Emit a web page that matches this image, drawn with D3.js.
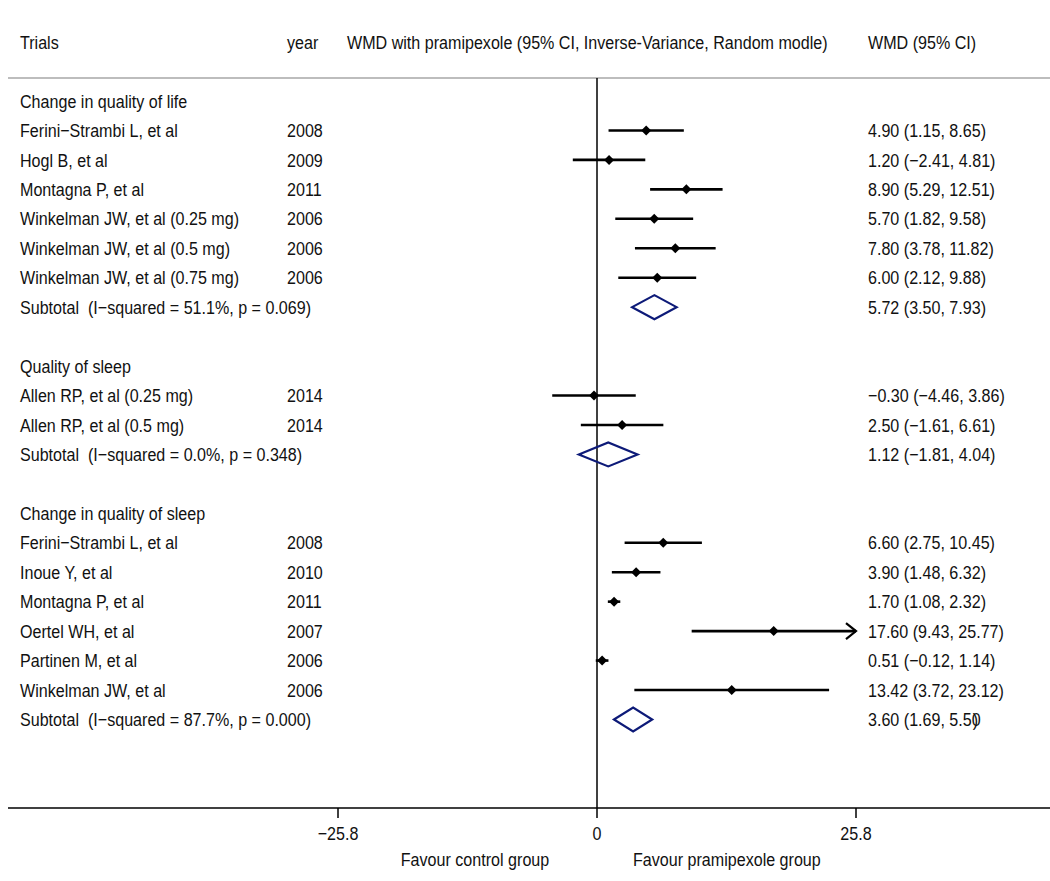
<!DOCTYPE html>
<html><head><meta charset="utf-8">
<script src="https://cdn.jsdelivr.net/npm/d3@7"></script>
<style>
body{margin:0;background:#fff;}
text{font-family:"Liberation Sans",Arial,sans-serif;font-size:18.5px;fill:#111;white-space:pre;}
</style></head>
<body><svg id="c" width="1050" height="881"></svg>
<script>
// row types: h = group header, s = study, t = subtotal, b = blank
const rowTypes = ["h","s","s","s","s","s","s","t","b","h","s","s","t","b","h","s","s","s","s","s","s","t"];
const labels = ["Change in quality of life","Ferini−Strambi L, et al","Hogl B, et al","Montagna P, et al","Winkelman JW, et al (0.25 mg)","Winkelman JW, et al (0.5 mg)","Winkelman JW, et al (0.75 mg)","Subtotal  (I−squared = 51.1%, p = 0.069)","",
"Quality of sleep","Allen RP, et al (0.25 mg)","Allen RP, et al (0.5 mg)","Subtotal  (I−squared = 0.0%, p = 0.348)","",
"Change in quality of sleep","Ferini−Strambi L, et al","Inoue Y, et al","Montagna P, et al","Oertel WH, et al","Partinen M, et al","Winkelman JW, et al","Subtotal  (I−squared = 87.7%, p = 0.000)"];
const years = ["","2008","2009","2011","2006","2006","2006","","","","2014","2014","","","","2008","2010","2011","2007","2006","2006",""];
const es = [null,4.90,1.20,8.90,5.70,7.80,6.00,5.72,null,null,-0.30,2.50,1.12,null,null,6.60,3.90,1.70,17.60,0.51,13.42,3.60];
const lo = [null,1.15,-2.41,5.29,1.82,3.78,2.12,3.50,null,null,-4.46,-1.61,-1.81,null,null,2.75,1.48,1.08,9.43,-0.12,3.72,1.69];
const hi = [null,8.65,4.81,12.51,9.58,11.82,9.88,7.93,null,null,3.86,6.61,4.04,null,null,10.45,6.32,2.32,25.77,1.14,23.12,5.50];
const ciText = ["","4.90 (1.15, 8.65)","1.20 (−2.41, 4.81)","8.90 (5.29, 12.51)","5.70 (1.82, 9.58)","7.80 (3.78, 11.82)","6.00 (2.12, 9.88)","5.72 (3.50, 7.93)","",
"","−0.30 (−4.46, 3.86)","2.50 (−1.61, 6.61)","1.12 (−1.81, 4.04)","",
"","6.60 (2.75, 10.45)","3.90 (1.48, 6.32)","1.70 (1.08, 2.32)","17.60 (9.43, 25.77)","0.51 (−0.12, 1.14)","13.42 (3.72, 23.12)","3.60 (1.69, 5.50"];
const tickValues = [-25.8, 0, 25.8];
const tickLabels = ["−25.8","0","25.8"];
const headers = ["Trials","year","WMD with pramipexole (95% CI, Inverse-Variance, Random modle)","WMD (95% CI)"];

const svg = d3.select("#c");
const x = d3.scaleLinear().domain([-25.8, 25.8]).range([338, 856]);
const y = d3.scaleLinear().domain([0, 1]).range([101, 130.45]);
const axisY = 808, topY = 78;
const SX = 0.87;

function txt(px, py, s, anchor) {
  return svg.append("text")
    .attr("transform", `translate(${px},${py}) scale(${SX},1)`)
    .attr("dy","0.36em")
    .attr("xml:space","preserve")
    .attr("text-anchor", anchor || "start")
    .text(s);
}

// header
const hx = [20, 287, 347, 868];
headers.forEach((h,i)=> txt(hx[i], 42, h));

// lines
svg.append("line").attr("x1",8).attr("x2",1050).attr("y1",topY).attr("y2",topY).attr("stroke","#bdbdbd").attr("stroke-width",2);
svg.append("line").attr("x1",x(0)).attr("x2",x(0)).attr("y1",topY).attr("y2",axisY).attr("stroke","#000").attr("stroke-width",1.5);

// rows
rowTypes.forEach((t,i)=>{
  const yy = y(i);
  if (labels[i]) txt(20, yy, labels[i]);
  if (years[i]) txt(287, yy, years[i]);
  if (ciText[i]) {
    const tx = txt(868, yy, ciText[i]);
    if (i===21) tx.append("tspan").attr("dx",-9).text(")");
  }
  if (t==="s") {
    const arrow = hi[i] >= 25.7;
    const xe = arrow ? x(25.8) : x(hi[i]);
    svg.append("line").attr("x1",x(lo[i])).attr("x2",xe).attr("y1",yy).attr("y2",yy).attr("stroke","#000").attr("stroke-width",2.6);
    if (arrow) svg.append("path").attr("d",`M${xe-10},${yy-8}L${xe},${yy}L${xe-10},${yy+8}`).attr("fill","none").attr("stroke","#000").attr("stroke-width",2.2);
    const r = 5;
    svg.append("path").attr("d",`M${x(es[i])-r},${yy}L${x(es[i])},${yy-r}L${x(es[i])+r},${yy}L${x(es[i])},${yy+r}Z`).attr("fill","#000");
  } else if (t==="t") {
    const h = 12;
    svg.append("path").attr("d",`M${x(lo[i])},${yy}L${x(es[i])},${yy-h}L${x(hi[i])},${yy}L${x(es[i])},${yy+h}Z`)
      .attr("fill","none").attr("stroke","#0d1a78").attr("stroke-width",2.2);
  }
});

// axis
svg.append("line").attr("x1",8).attr("x2",1050).attr("y1",axisY).attr("y2",axisY).attr("stroke","#000").attr("stroke-width",1.5);
tickValues.forEach((v,i)=>{
  svg.append("line").attr("x1",x(v)).attr("x2",x(v)).attr("y1",axisY).attr("y2",axisY+10).attr("stroke","#000").attr("stroke-width",1.5);
  txt(x(v), 833, tickLabels[i], "middle");
});
txt(475, 859, "Favour control group", "middle");
txt(633, 859, "Favour pramipexole group");
</script></body></html>
